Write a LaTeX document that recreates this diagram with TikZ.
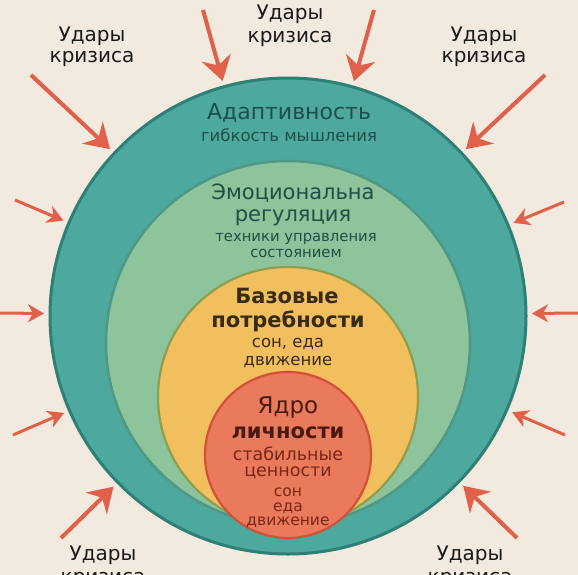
\documentclass[tikz,border=0pt]{standalone}
\usepackage{fontspec}
\setmainfont{DejaVu Sans}
\usetikzlibrary{arrows.meta}

\definecolor{paper}{HTML}{F2EADF}
\definecolor{tealfill}{HTML}{4DA89E}
\definecolor{tealline}{HTML}{2E8077}
\definecolor{greenfill}{HTML}{8DC49B}
\definecolor{greenline}{HTML}{4F9886}
\definecolor{yellowfill}{HTML}{F2BF5E}
\definecolor{yellowline}{HTML}{8E9E4E}
\definecolor{redfill}{HTML}{EA7A5C}
\definecolor{redline}{HTML}{D4503A}
\definecolor{hitred}{HTML}{E0604A}
\definecolor{ink}{HTML}{1A1A1A}
\definecolor{tealink}{HTML}{1D4F4A}
\definecolor{greenink}{HTML}{1F4F45}
\definecolor{yellowink}{HTML}{3B2A12}
\definecolor{redink}{HTML}{4A1A10}
\definecolor{redsub}{HTML}{7A2616}

\tikzset{
  ring/.style={circle, inner sep=0pt, outer sep=0pt},
  txt/.style={anchor=base, inner sep=0pt},
  crisis/.style={txt, font=\fontsize{20}{24}\selectfont, text=ink},
  hit/.style={draw=hitred, fill=hitred, line width=4pt, shorten >=6pt,
    -{Stealth[length=24pt,width=30pt,inset=8pt]}},
  hitshort/.style={hit, line width=3pt, -{Stealth[length=16pt,width=18pt,inset=5pt]}},
}

\begin{document}
\begin{tikzpicture}[x=1pt,y=-1pt]
        \useasboundingbox (0,0) rectangle (578,575);
        \clip (0,0) rectangle (578,575);
        \fill[paper] (0,0) rectangle (578,575);

        % rings
        \node[ring, fill=tealfill, draw=tealline, line width=3pt, minimum size=476pt] (outer) at (288,316) {};
        \node[ring, fill=greenfill, draw=greenline, line width=2.5pt, minimum size=364pt] (emo) at (288,343) {};
        \node[ring, fill=yellowfill, draw=yellowline, line width=2.2pt, minimum size=260pt] (base) at (288,397) {};
        \node[ring, fill=redfill, draw=redline, line width=2.2pt, minimum size=166pt] (core) at (288,455) {};

        \node[txt, text=tealink, font=\fontsize{22}{26}\selectfont] (adapt) at (289,120) {Адаптивность};
        \node[txt, text=tealink, font=\fontsize{16.5}{20}\selectfont] (adaptsub) at (289,142) {гибкость мышления};

        \node[txt, text=greenink, font=\fontsize{21}{25}\selectfont] (emoa) at (293,199) {Эмоциональна};
        \node[txt, text=greenink, font=\fontsize{21}{25}\selectfont] (emob) at (293,221) {регуляция};
        \node[txt, text=greenink, font=\fontsize{14.8}{18}\selectfont] (emosuba) at (296,241) {техники управления};
        \node[txt, text=greenink, font=\fontsize{14.8}{18}\selectfont] (emosubb) at (296,257) {состоянием};

        \node[txt, text=yellowink, font=\bfseries\fontsize{21}{25}\selectfont] (basea) at (287,303) {Базовые};
        \node[txt, text=yellowink, font=\bfseries\fontsize{21}{25}\selectfont] (baseb) at (288,327) {потребности};
        \node[txt, text=yellowink, font=\fontsize{16.5}{20}\selectfont] (basesuba) at (288,347) {сон, еда};
        \node[txt, text=yellowink, font=\fontsize{16.5}{20}\selectfont] (basesubb) at (288,365) {движение};

        \node[txt, text=redink, font=\fontsize{23}{27}\selectfont] (corea) at (288,413) {Ядро};
        \node[txt, text=redink, font=\bfseries\fontsize{21}{25}\selectfont] (coreb) at (288,438) {личности};
        \node[txt, text=redsub, font=\fontsize{17.5}{21}\selectfont] (coresuba) at (288,460) {стабильные};
        \node[txt, text=redsub, font=\fontsize{17.5}{21}\selectfont] (coresubb) at (288,476) {ценности};
        \node[txt, text=redsub, font=\fontsize{15.5}{18}\selectfont] (coresubc) at (288,496.5) {сон};
        \node[txt, text=redsub, font=\fontsize{15.5}{18}\selectfont] (coresubd) at (288,511) {еда};
        \node[txt, text=redsub, font=\fontsize{15.5}{18}\selectfont] (coresube) at (288,525.5) {движение};

        % crisis labels
        \node[crisis] (lbla) at (92,42) {Удары};
        \node[crisis] (lblb) at (92,63) {кризиса};
        \node[crisis] (lblc) at (290,20) {Удары};
        \node[crisis] (lbld) at (290,43) {кризиса};
        \node[crisis] (lble) at (484,42) {Удары};
        \node[crisis] (lblf) at (484,63) {кризиса};
        \node[crisis] (lblg) at (103,560) {Удары};
        \node[crisis] (lblh) at (103,583) {кризиса};
        \node[crisis] (lbli) at (470,560) {Удары};
        \node[crisis] (lblj) at (470,583) {кризиса};

        % hits
        \coordinate (ta) at (31,75);
        \coordinate (tb) at (203,10);
        \coordinate (tc) at (374,10);
        \coordinate (td) at (545,75);
        \coordinate (te) at (15,200);
        \coordinate (tf) at (564,202);
        \coordinate (tg) at (0,313);
        \coordinate (th) at (578,313);
        \coordinate (ti) at (13,435);
        \coordinate (tj) at (565,435);
        \coordinate (tk) at (61,538);
        \coordinate (tl) at (517,538);

        \draw[hit] (ta) -- (outer);
        \draw[hit] (tb) -- (outer);
        \draw[hit] (tc) -- (outer);
        \draw[hit] (td) -- (outer);
        \draw[hitshort] (te) -- (outer);
        \draw[hitshort] (tf) -- (outer);
        \draw[hitshort] (tg) -- (outer);
        \draw[hitshort] (th) -- (outer);
        \draw[hitshort] (ti) -- (outer);
        \draw[hitshort] (tj) -- (outer);
        \draw[hit] (tk) -- (outer);
        \draw[hit] (tl) -- (outer);
\end{tikzpicture}
\end{document}
